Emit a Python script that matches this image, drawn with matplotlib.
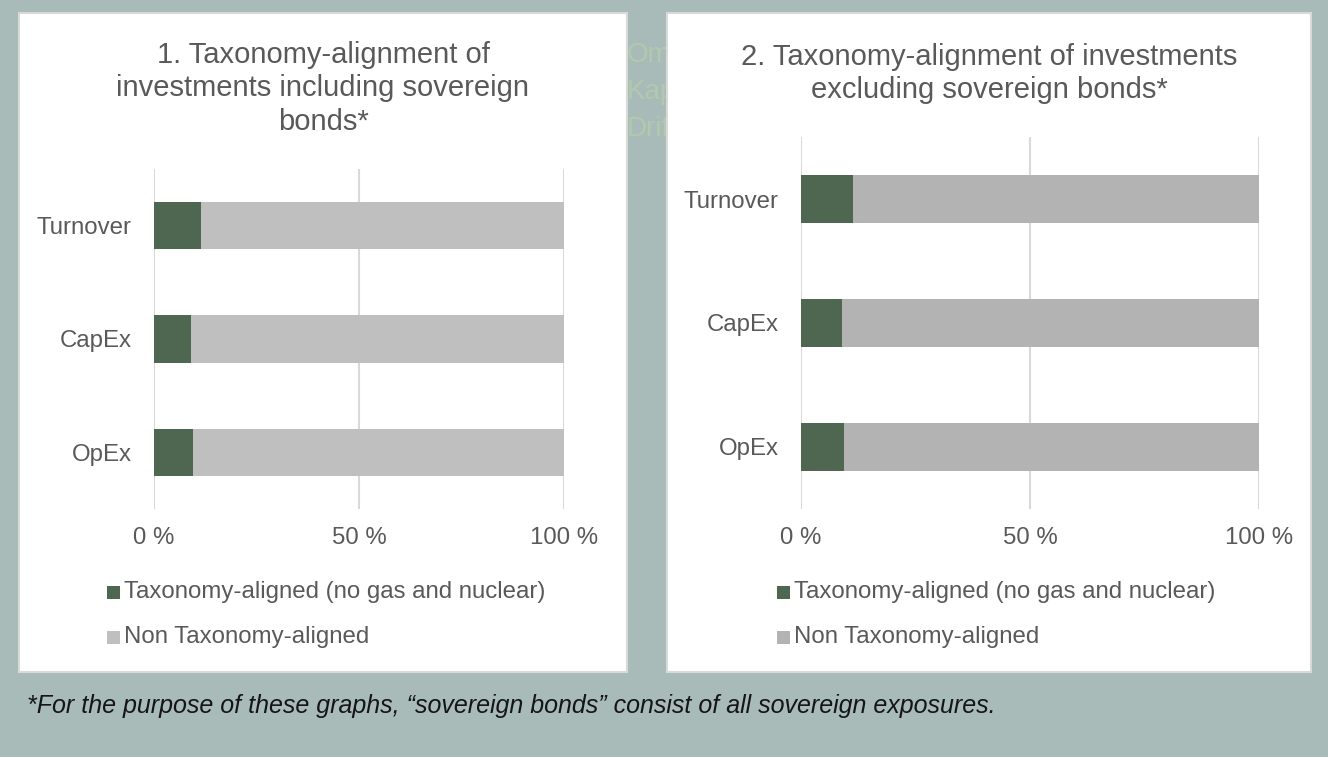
import matplotlib
matplotlib.use("Agg")
import matplotlib.pyplot as plt
from matplotlib.patches import Rectangle

plt.rcParams['font.family'] = ['Liberation Sans', 'DejaVu Sans']

categories = ["Turnover", "CapEx", "OpEx"]
aligned_incl = [11.5, 9.0, 9.5]
aligned_excl = [11.4, 9.0, 9.4]
non_aligned_incl = [100 - v for v in aligned_incl]
non_aligned_excl = [100 - v for v in aligned_excl]
xtick_vals = [0, 50, 100]
xtick_labels = ["0 %", "50 %", "100 %"]
legend_labels = ["Taxonomy-aligned (no gas and nuclear)", "Non Taxonomy-aligned"]
title1_lines = ["1. Taxonomy-alignment of", "investments including sovereign", "bonds*"]
title2_lines = ["2. Taxonomy-alignment of investments", "excluding sovereign bonds*"]
ghost_labels = ["Om", "Kap", "Drif"]
footnote = "*For the purpose of these graphs, \u201csovereign bonds\u201d consist of all sovereign exposures."

W, H = 1328, 757
fig = plt.figure(figsize=(W/100, H/100), dpi=100)
fig.patch.set_facecolor("#A8BBB8")

def fx(x):
    return x / W

def fy(y):
    return 1 - y / H

def px_rect(x0, y0, x1, y1):
    return [x0/W, (H-y1)/H, (x1-x0)/W, (y1-y0)/H]

GREEN = "#4F6750"
TXT = "#595959"
FS = 17.3

# faint text peeking out between the panels
for i, g in enumerate(ghost_labels):
    fig.text(fx(627), fy(55 + 37*i), g, ha='left', va='center', fontsize=20,
             color="#B3C8AE", zorder=0.5)

# panels
for (x0, y0, x1, y1) in [(19, 13, 627, 672), (667, 13, 1311, 672)]:
    r = Rectangle((x0/W, (H-y1)/H), (x1-x0)/W, (y1-y0)/H, transform=fig.transFigure,
                  facecolor="white", edgecolor="#D9D9D9", linewidth=1.5, zorder=1)
    fig.add_artist(r)

def draw(ax_rect, aligned, non_aligned, grey, title_lines, title_cx, title_base,
         leg_marker_x, leg_text_x, bar_h):
    ax = fig.add_axes(px_rect(*ax_rect))
    ax.set_zorder(2)
    ax.set_facecolor("none")
    y = list(range(len(categories)))
    ax.barh(y, aligned, height=bar_h, color=GREEN, zorder=3)
    ax.barh(y, non_aligned, left=aligned, height=bar_h, color=grey, zorder=3)
    ax.set_xlim(0, 100)
    ax.set_ylim(2.5, -0.5)
    ax.set_yticks(y)
    ax.set_yticklabels(categories, fontsize=FS, color=TXT)
    ax.set_xticks(xtick_vals)
    ax.set_xticklabels(xtick_labels, fontsize=FS, color=TXT)
    ax.tick_params(length=0)
    ax.tick_params(axis='y', pad=16)
    ax.tick_params(axis='x', pad=13)
    for s in ax.spines.values():
        s.set_visible(False)
    ax.grid(axis='x', color="#D9D9D9", linewidth=1.5, zorder=0)
    ax.set_axisbelow(True)
    for i, line in enumerate(title_lines):
        fig.text(fx(title_cx), fy(title_base + 33.5*i), line, ha='center', va='baseline',
                 fontsize=21, color=TXT, zorder=3)
    for i, (lab, col) in enumerate(zip(legend_labels, [GREEN, grey])):
        yy = 592 + 45.5*i
        fig.add_artist(Rectangle((fx(leg_marker_x), fy(yy + 6.5)), 13/W, 13/H,
                                 transform=fig.transFigure, facecolor=col,
                                 edgecolor='none', zorder=3))
        fig.text(fx(leg_text_x), fy(yy), lab, ha='left', va='center', fontsize=FS,
                 color=TXT, zorder=3)
    return ax

draw((154, 169, 564, 509), aligned_incl, non_aligned_incl, "#BFBFBF",
     title1_lines, 323, 63, 107, 124, 0.415)
draw((801, 137, 1259, 509), aligned_excl, non_aligned_excl, "#B3B3B3",
     title2_lines, 989, 65, 777, 794, 0.395)

fig.text(fx(27), fy(706), footnote, ha='left', va='center', fontsize=18,
         style='italic', color="#151515", zorder=3)

fig.savefig("out.png", dpi=100, facecolor=fig.get_facecolor())
